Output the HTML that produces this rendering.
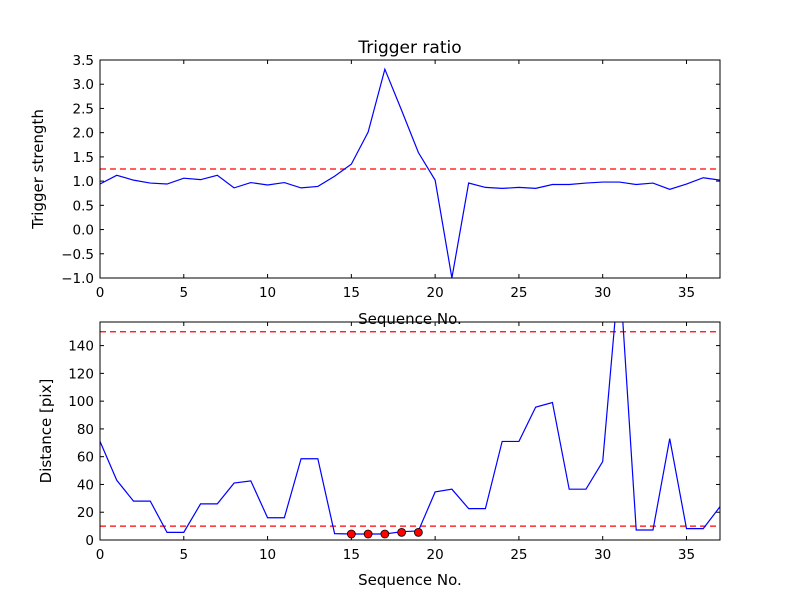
<!DOCTYPE html>
<html><head><meta charset="utf-8"><style>
body{margin:0;background:#fff}
svg text{font-family:"DejaVu Sans","Liberation Sans",sans-serif;fill:#000}
</style></head><body>
<svg id="chart" width="800" height="600" viewBox="0 0 800 600"></svg>
<script>
const seq = [0,1,2,3,4,5,6,7,8,9,10,11,12,13,14,15,16,17,18,19,20,21,22,23,24,25,26,27,28,29,30,31,32,33,34,35,36,37];
const strength = [0.94,1.12,1.02,0.96,0.94,1.06,1.03,1.12,0.86,0.97,0.92,0.97,0.86,0.89,1.10,1.35,2.01,3.31,2.46,1.59,1.02,-1.0,0.96,0.87,0.85,0.87,0.85,0.93,0.93,0.96,0.98,0.98,0.93,0.96,0.83,0.94,1.07,1.02];
const strengthThreshold = 1.25;
const distance = [71,43,28,28,5.5,5.5,26,26,41,42.6,16,16,58.5,58.5,4.6,4.3,4.3,4.3,6,6.5,34.6,36.6,22.6,22.6,71,71,95.7,99,36.6,36.6,56.5,195,7.2,7.2,73,8.2,8.2,24];
const markSeq = [15,16,17,18,19];
const markDist = [4.3,4.3,4.3,5.5,5.5];
const distThresholds = [150,10];
const xTicks = [0,5,10,15,20,25,30,35];
const yTicksTop = [-1.0,-0.5,0.0,0.5,1.0,1.5,2.0,2.5,3.0,3.5];
const yTicksBot = [0,20,40,60,80,100,120,140];

const NS="http://www.w3.org/2000/svg";
const svg=document.getElementById('chart');
function mk(tag,attrs,parent){const e=document.createElementNS(NS,tag);for(const k in attrs)e.setAttribute(k,attrs[k]);(parent||svg).appendChild(e);return e;}
const L=100,R=720;
const xs=v=>L+(v-0)/(37-0)*(R-L);

function panel(top,bot,ymin,ymax,yTicks,fmt,name){
  const ys=v=>bot-(v-ymin)/(ymax-ymin)*(bot-top);
  const g=mk('g',{});
  
  
  const cp='clip-'+name;
  const c=mk('clipPath',{id:cp},g);mk('rect',{x:L,y:top,width:R-L,height:bot-top},c);
  xTicks.forEach(t=>{
    const x=xs(t);
    mk('line',{x1:x,x2:x,y1:bot,y2:bot-4,stroke:'#000'},g);
    mk('line',{x1:x,x2:x,y1:top,y2:top+4,stroke:'#000'},g);
    const tx=mk('text',{x:x,y:bot+19,'text-anchor':'middle','font-size':'13.5'},g);tx.textContent=t;
    
    
  });
  yTicks.forEach(t=>{
    const y=ys(t);
    mk('line',{x1:L,x2:L+4,y1:y,y2:y,stroke:'#000'},g);
    mk('line',{x1:R,x2:R-4,y1:y,y2:y,stroke:'#000'},g);
    const tx=mk('text',{x:L-6,y:y+5,'text-anchor':'end','font-size':'13.5'},g);tx.textContent=fmt(t);
    
    
  });
  return {g,ys,cp};
}

// top panel
const p1=panel(60,278,-1,3.5,yTicksTop,t=>(t<0?'\u2212':'')+Math.abs(t).toFixed(1),'strength-panel');
const th1=mk('line',{x1:L,x2:R,y1:p1.ys(strengthThreshold),y2:p1.ys(strengthThreshold),stroke:'#f00','stroke-dasharray':'6,4','stroke-width':1.2},p1.g);


const l1=mk('polyline',{points:seq.map((s,i)=>xs(s)+','+p1.ys(strength[i])).join(' '),fill:'none',stroke:'#00f','stroke-width':1.2,'clip-path':'url(#'+p1.cp+')'},p1.g);


mk('rect',{x:L,y:60,width:R-L,height:218,fill:'none',stroke:'#000'},p1.g);

// bottom panel
const p2=panel(322,540,0,157,yTicksBot,t=>String(t),'distance-panel');
distThresholds.forEach(v=>{
  const t=mk('line',{x1:L,x2:R,y1:p2.ys(v),y2:p2.ys(v),stroke:'#f00','stroke-dasharray':'6,4','stroke-width':1.2},p2.g);
  
  
});
const l2=mk('polyline',{points:seq.map((s,i)=>xs(s)+','+p2.ys(distance[i])).join(' '),fill:'none',stroke:'#00f','stroke-width':1.2,'clip-path':'url(#'+p2.cp+')'},p2.g);


markSeq.forEach((s,i)=>{
  const c=mk('circle',{cx:xs(s),cy:p2.ys(markDist[i]),r:4,fill:'#f00',stroke:'#000','stroke-width':0.8},p2.g);
  
  
});
mk('rect',{x:L,y:322,width:R-L,height:218,fill:'none',stroke:'#000'},p2.g);
</script>
<svg width="800" height="600" style="position:absolute;left:0;top:0">
<text x="410" y="53" text-anchor="middle" font-size="17">Trigger ratio</text>
<text x="410" y="324" text-anchor="middle" font-size="15">Sequence No.</text>
<text x="410" y="585" text-anchor="middle" font-size="15">Sequence No.</text>
<text x="43" y="169" text-anchor="middle" font-size="15" transform="rotate(-90 43 169)">Trigger strength</text>
<text x="51" y="431" text-anchor="middle" font-size="15" transform="rotate(-90 51 431)">Distance [pix]</text>
</svg>
</body></html>
